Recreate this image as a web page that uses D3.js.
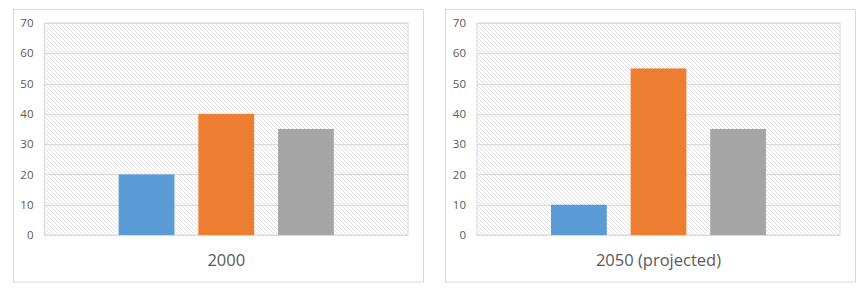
<!DOCTYPE html>
<html>
<head>
<meta charset="utf-8">
<script src="https://cdn.jsdelivr.net/npm/d3@7"></script>
<style>
  body { margin: 0; background: #fff; }
  svg { display: block; }
  text { font-family: "Open Sans", "Noto Sans", sans-serif; fill: #595959; }
</style>
</head>
<body>
<svg id="chart" width="867" height="299"></svg>
<script>
// data
const series = ["A", "B", "C"];
const colors = ["#5b9bd5", "#ed7d31", "#a5a5a5"];
const titles = ["2000", "2050 (projected)"];
const values2000 = [20, 40, 35];
const values2050 = [10, 55, 35];
const yTicks = [0, 10, 20, 30, 40, 50, 60, 70];

const svg = d3.select("#chart");

// hatch for the plot background
const defs = svg.append("defs");
const pat = defs.append("pattern")
  .attr("id", "hatch")
  .attr("patternUnits", "userSpaceOnUse")
  .attr("width", 4).attr("height", 4);
pat.append("rect").attr("width", 4).attr("height", 4).attr("fill", "#fff");
pat.append("path")
  .attr("d", "M-1,-1 L5,5 M-1,3 L1,5 M3,-1 L5,1")
  .attr("stroke", "#dedede")
  .attr("stroke-width", 0.9);

const panels = [
  { title: titles[0], values: values2000, box: [13.5, 9.5, 410, 272.5], plot: [44.5, 408] },
  { title: titles[1], values: values2050, box: [445.5, 9.5, 410, 272.5], plot: [477, 840] }
];

const y = d3.scaleLinear().domain([0, 70]).range([235, 23]);

panels.forEach((p) => {
  const g = svg.append("g");
  const [bx, by, bw, bh] = p.box;

  // panel border
  g.append("rect")
    .attr("x", bx).attr("y", by)
    .attr("width", bw).attr("height", bh)
    .attr("fill", "#fff")
    .attr("stroke", "#d9d9d9");

  const x = d3.scaleBand()
    .domain(series)
    .range(p.plot)
    .paddingInner(0.3)
    .paddingOuter(0.93);

  // hatched plot area
  g.append("rect")
    .attr("x", p.plot[0]).attr("y", y(70))
    .attr("width", p.plot[1] - p.plot[0])
    .attr("height", y(0) - y(70))
    .attr("fill", "url(#hatch)")
    .attr("stroke", "#d9d9d9");

  // gridlines
  g.selectAll(".grid")
    .data(yTicks)
    .enter()
    .append("line")
    .attr("x1", p.plot[0]).attr("x2", p.plot[1])
    .attr("y1", (d) => Math.round(y(d)) + 0.5)
    .attr("y2", (d) => Math.round(y(d)) + 0.5)
    .attr("stroke", "#d9d9d9");

  // y axis labels
  const axis = d3.axisLeft(y).tickValues(yTicks).tickSize(0).tickPadding(11);
  const ag = g.append("g")
    .attr("transform", `translate(${p.plot[0]},0)`)
    .call(axis);
  ag.select(".domain").remove();
  ag.selectAll("text")
    .style("font-size", "11.5px")
    .attr("fill", "#595959");

  // bars
  g.selectAll(".bar")
    .data(p.values)
    .enter()
    .append("rect")
    .attr("x", (_, i) => x(series[i]))
    .attr("y", (d) => y(d))
    .attr("width", x.bandwidth())
    .attr("height", (d) => y(0) - y(d))
    .attr("fill", (_, i) => colors[i]);

  // title under the plot
  g.append("text")
    .attr("x", (p.plot[0] + p.plot[1]) / 2)
    .attr("y", 266)
    .attr("text-anchor", "middle")
    .style("font-size", "16.5px")
    .text(p.title);
});
</script>
</body>
</html>
